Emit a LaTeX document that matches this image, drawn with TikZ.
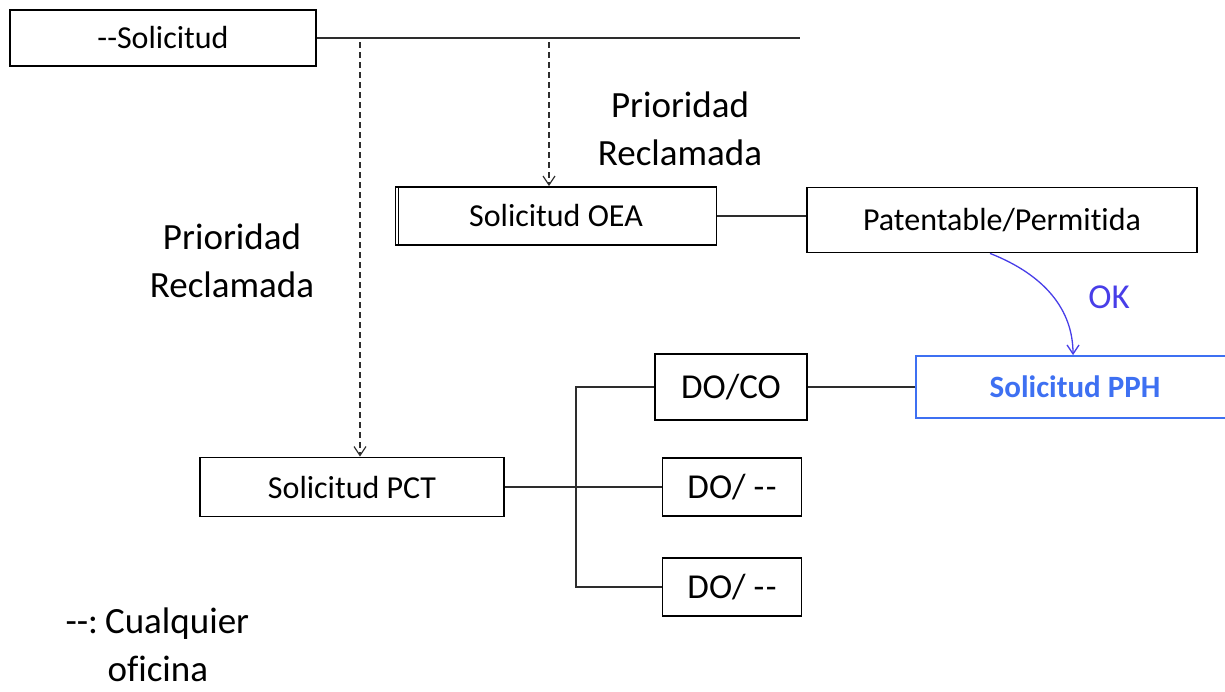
\documentclass[tikz,border=0pt]{standalone}
\usepackage{fontspec}
\setmainfont{Carlito}[Ligatures={NoCommon,NoRare,NoContextual}, Contextuals={NoAlternate}]
\usepackage{tikz}
\usetikzlibrary{arrows.meta, positioning}
\definecolor{okblue}{RGB}{72,62,232}
\definecolor{pphblue}{RGB}{62,112,242}
\definecolor{linegray}{RGB}{45,45,45}
\newcommand{\nt}{t\kern0pt i}
\tikzset{
    appbox/.style={rectangle, draw, line width=1.8pt, inner sep=0pt, font=\fontsize{32}{36}\selectfont},
    dobox/.style={appbox, line width=1.5pt, font=\fontsize{35}{40}\selectfont},
    pphbox/.style={appbox, draw=pphblue, text=pphblue, font=\fontsize{31}{36}\selectfont\bfseries},
    note/.style={align=center, font=\fontsize{37}{48}\selectfont},
    link/.style={line width=1.5pt, draw=linegray},
    prio/.style={-{Straight Barb[length=9pt, width=12pt]}, line width=1.2pt, draw=linegray, dash pattern=on 6pt off 4pt},
    okarrow/.style={-{Straight Barb[length=9pt, width=12pt]}, line width=1.3pt, draw=okblue}
}
\begin{document}
\begin{tikzpicture}[x=1pt, y=-1pt]
            \useasboundingbox (0,0) rectangle (1225,691);
            \node (sol) [appbox, minimum width=306pt, minimum height=56pt] at (163,38) {-{}-Solicitud};
            \node (oea) [appbox, minimum width=321pt, minimum height=58pt] at (556,216) {Solicitud OEA};
            \node (pat) [appbox, minimum width=390pt, minimum height=65pt] at (1002,220) {Patentable/Permi\nt da};
            \node (pph) [pphbox, minimum width=318pt, minimum height=62pt] at (1075,387) {Solicitud PPH};
            \node (doco) [dobox, minimum width=152pt, minimum height=66pt] at (731,387) {DO/CO};
            \node (dox1) [dobox, minimum width=139pt, minimum height=58pt] at (732,487) {DO/ -\kern1.5pt-};
            \node (dox2) [dobox, minimum width=139pt, minimum height=58pt] at (732,587) {DO/ -\kern1.5pt-};
            \node (pct) [appbox, minimum width=304pt, minimum height=59pt] at (352,487) {Solicitud PCT};

            \node (prio1) [note] at (680,129) {Prioridad\\Reclamada};
            \node (prio2) [note] at (232,261) {Prioridad\\Reclamada};
            \node (ok) [note, text=okblue, font=\fontsize{35}{40}\selectfont] at (1109,297) {OK};
            \node (legend) [note, align=left, anchor=north west] at (62,604) {-{}-:\hspace{7pt}Cualquier\\\hspace*{42pt}oficina};

            % double left edge of the OEA box
            \draw[line width=1.2pt] ([xshift=4pt]oea.north west) -- ([xshift=4pt]oea.south west);

            \coordinate (lineend) at (800,38);
            \coordinate (tapa) at (360,42);
            \coordinate (tapb) at (549,42);
            \coordinate (brk) at (576,0);

            \draw[link] (sol.east) -- (lineend);
            \draw[prio] (tapa) -- (tapa |- pct.north);
            \draw[prio] (tapb) -- (tapb |- oea.north);
            \draw[link] (oea.east) -- (oea.east -| pat.west);
            \draw[link] (doco.east) -- (doco.east -| pph.west);
            \draw[link] (pct.east) -- (dox1.west);
            \draw[link] (doco.west) -- (doco.west -| brk) -- (dox2.west -| brk) -- (dox2.west);
            \draw[okarrow] ([xshift=-12pt]pat.south) .. controls (1045,275) and (1073,310) .. ([xshift=-2pt]pph.north);
        \end{tikzpicture}
\end{document}
